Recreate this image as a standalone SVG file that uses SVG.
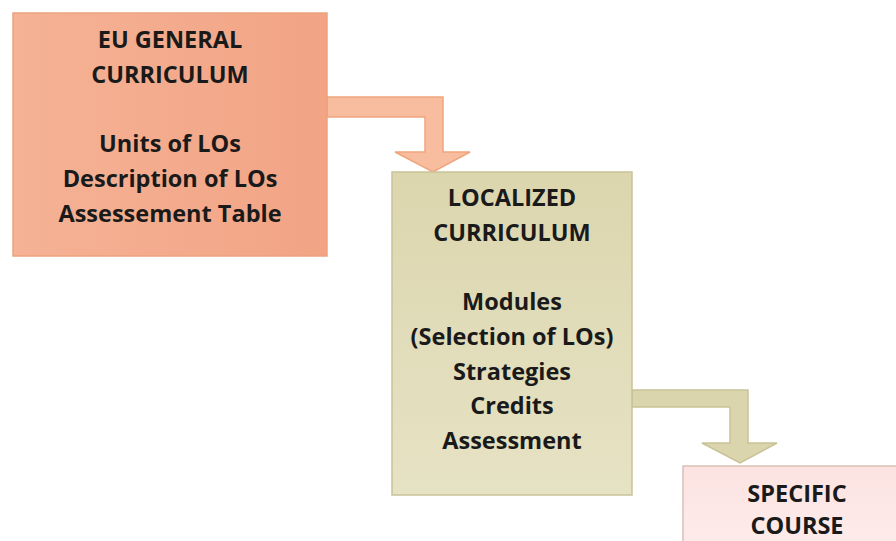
<svg xmlns="http://www.w3.org/2000/svg" width="896" height="541" viewBox="0 0 896 541">
<defs>
<linearGradient id="g1" x1="0" y1="0" x2="1" y2="0">
<stop offset="0" stop-color="#F5B295"/><stop offset="1" stop-color="#F2A485"/>
</linearGradient>
<linearGradient id="g2" x1="0" y1="0" x2="0" y2="1">
<stop offset="0" stop-color="#DCD6AE"/><stop offset="1" stop-color="#E6E2C4"/>
</linearGradient>
<linearGradient id="g3" x1="0" y1="0" x2="0" y2="1">
<stop offset="0" stop-color="#FCE3E1"/><stop offset="1" stop-color="#FDEDEC"/>
</linearGradient>
<style>
text{font-family:"Open Sans","Liberation Sans",sans-serif;font-weight:700;font-size:23.5px;fill:#1a1a1a;text-anchor:middle}
.a1{fill:#F8BC9E;stroke:#EFA57C;stroke-width:1.5}
.a2{fill:#DAD5AC;stroke:#C9C297;stroke-width:1.5}
</style>
</defs>
<rect width="896" height="541" fill="#ffffff"/>
<g id="connectors">
<path class="a1" d="M327,97 H443 V152 H470 L433,172 L395,152 H425 V117 H327 Z"/>
<path class="a2" d="M632,390 H748 V443 H777 L740,463 L702,443 H730 V407 H632 Z"/>
</g>
<g id="eu-general">
<rect x="13" y="13" width="314" height="243" fill="url(#g1)" stroke="#EDA37E" stroke-width="1.5"/>
<text x="170" y="48">EU GENERAL</text>
<text x="170" y="83">CURRICULUM</text>
<text x="170" y="152">Units of LOs</text>
<text x="170" y="187">Description of LOs</text>
<text x="170" y="222">Assessement Table</text>
</g>
<g id="localized">
<rect x="392" y="172" width="240" height="323" fill="url(#g2)" stroke="#C9C297" stroke-width="1.5"/>
<text x="512" y="206">LOCALIZED</text>
<text x="512" y="241">CURRICULUM</text>
<text x="512" y="310">Modules</text>
<text x="512" y="345">(Selection of LOs)</text>
<text x="512" y="380">Strategies</text>
<text x="512" y="414">Credits</text>
<text x="512" y="449">Assessment</text>
</g>
<g id="specific">
<rect x="683" y="466" width="230" height="90" fill="url(#g3)" stroke="#D9C1B6" stroke-width="1.5"/>
<text x="797" y="502">SPECIFIC</text>
<text x="797" y="534">COURSE</text>
</g>
</svg>
